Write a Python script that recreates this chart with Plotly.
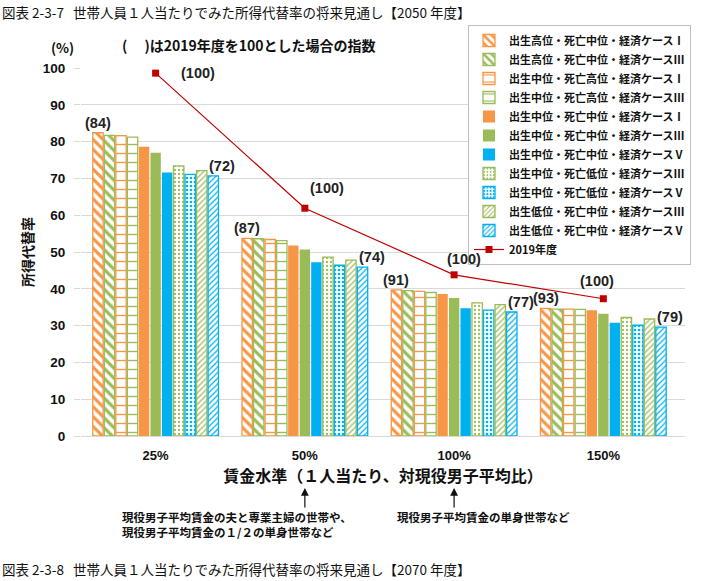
import plotly.graph_objects as go

categories = ["25%", "50%", "100%", "150%"]

series_names = [
    "出生高位・死亡中位・経済ケースⅠ",
    "出生高位・死亡中位・経済ケースⅢ",
    "出生中位・死亡高位・経済ケースⅠ",
    "出生中位・死亡高位・経済ケースⅢ",
    "出生中位・死亡中位・経済ケースⅠ",
    "出生中位・死亡中位・経済ケースⅢ",
    "出生中位・死亡中位・経済ケースⅤ",
    "出生中位・死亡低位・経済ケースⅢ",
    "出生中位・死亡低位・経済ケースⅤ",
    "出生低位・死亡中位・経済ケースⅢ",
    "出生低位・死亡中位・経済ケースⅤ",
]

s1 = [82.4, 53.7, 39.7, 34.7]
s2 = [81.7, 53.6, 39.5, 34.5]
s3 = [81.6, 53.4, 39.3, 34.5]
s4 = [81.2, 53.1, 39.0, 34.4]
s5 = [78.6, 51.8, 38.6, 34.2]
s6 = [77.0, 50.7, 37.5, 33.2]
s7 = [71.6, 47.2, 34.7, 30.8]
s8 = [73.4, 48.6, 36.2, 32.2]
s9 = [71.1, 46.4, 34.2, 30.1]
s10 = [72.1, 47.8, 35.7, 31.8]
s11 = [70.7, 45.9, 33.7, 29.6]
series_values = [s1, s2, s3, s4, s5, s6, s7, s8, s9, s10, s11]

line_name = "2019年度"
line_values = [98.6, 61.9, 43.8, 37.3]

first_labels = ["(84)", "(87)", "(91)", "(93)"]
last_labels = ["(72)", "(74)", "(77)", "(79)"]
line_labels = ["(100)", "(100)", "(100)", "(100)"]

ORANGE = "#F79646"
GREEN = "#9BBB59"
BLUE = "#00B0F0"
RED = "#C00000"

styles = [
    dict(c=ORANGE, shape="\\", size=7, sol=0.45),
    dict(c=GREEN, shape="\\", size=7, sol=0.45),
    dict(c=ORANGE, shape="-", size=9, sol=0.15),
    dict(c=GREEN, shape="-", size=9, sol=0.15),
    dict(c=ORANGE, shape=None),
    dict(c=GREEN, shape=None),
    dict(c=BLUE, shape=None),
    dict(c=GREEN, shape=".", size=4, sol=0.25),
    dict(c=BLUE, shape=".", size=4, sol=0.35),
    dict(c=GREEN, shape="/", size=4, sol=0.3),
    dict(c=BLUE, shape="/", size=4, sol=0.3),
]

CJK = "Noto Sans CJK JP"
fig = go.Figure()

for name, vals, st in zip(series_names, series_values, styles):
    if st["shape"] is None:
        marker = dict(color=st["c"], line=dict(color=st["c"], width=0))
    else:
        marker = dict(
            color=st["c"],
            line=dict(color=st["c"], width=1.3),
            pattern=dict(shape=st["shape"], fgcolor=st["c"], bgcolor="white",
                         size=st["size"], solidity=st["sol"], fillmode="replace"),
        )
    fig.add_trace(go.Bar(x=categories, y=vals, name=name, marker=marker))

fig.add_trace(go.Scatter(
    x=categories, y=line_values, name=line_name, mode="lines+markers",
    line=dict(color=RED, width=1.2),
    marker=dict(symbol="square", size=7, color=RED),
))

bargap = 0.15
n = len(series_names)
slot = (1 - bargap) / n
ann = []
lab_font = dict(family="Liberation Sans, Arial", size=14.5, color="#222", weight="bold")
for i, cat in enumerate(categories):
    x_first = i - (1 - bargap) / 2 + slot * 0.5
    x_last = i - (1 - bargap) / 2 + slot * (n - 0.5)
    ann.append(dict(x=x_first, y=series_values[0][i], xref="x", yref="y", text=first_labels[i],
                    showarrow=False, yanchor="bottom", yshift=0, font=lab_font))
    ann.append(dict(x=x_last, y=series_values[-1][i], xref="x", yref="y", text=last_labels[i],
                    showarrow=False, yanchor="bottom", yshift=0, xshift=9, font=lab_font))

line_offsets = [(42, 0), (22, 20), (10, 16), (-6, 18)]
for i, cat in enumerate(categories):
    dx, dy = line_offsets[i]
    ann.append(dict(x=i, y=line_values[i], xref="x", yref="y", text=line_labels[i],
                    showarrow=False, xshift=dx, yshift=dy, yanchor="middle", font=lab_font))

# Texts outside plot (paper coords relative to plot area 81..685 x 68..436)
def px(xp):
    return (xp - 81) / 604.0

def py(yp):
    return (436 - yp) / 368.0

title_font = dict(family=CJK, size=13.5, color="#111")
ann.append(dict(xref="paper", yref="paper", x=px(0), y=py(12), xanchor="left", yanchor="middle",
                text="図表 2-3-7&nbsp;&nbsp;&nbsp;世帯人員１人当たりでみた所得代替率の将来見通し【2050 年度】",
                showarrow=False, font=title_font))
ann.append(dict(xref="paper", yref="paper", x=px(0), y=py(569), xanchor="left", yanchor="middle",
                text="図表 2-3-8&nbsp;&nbsp;&nbsp;世帯人員１人当たりでみた所得代替率の将来見通し【2070 年度】",
                showarrow=False, font=title_font))
ann.append(dict(xref="paper", yref="paper", x=px(62), y=py(47), xanchor="center", yanchor="middle",
                text="(%)", showarrow=False,
                font=dict(family=CJK, size=13.5, color="#111", weight="bold")))
ann.append(dict(xref="paper", yref="paper", x=px(120), y=py(45), xanchor="left", yanchor="middle",
                text="(　 )は2019年度を100とした場合の指数", showarrow=False,
                font=dict(family=CJK, size=14, color="#111", weight="bold")))
note_font = dict(family=CJK, size=11.5, color="#111", weight="bold")
ann.append(dict(xref="paper", yref="paper", x=px(120), y=py(524), xanchor="left", yanchor="middle",
                text="現役男子平均賃金の夫と専業主婦の世帯や、<br>現役男子平均賃金の１/２の単身世帯など",
                align="left", showarrow=False, font=note_font))
ann.append(dict(xref="paper", yref="paper", x=px(395), y=py(517), xanchor="left", yanchor="middle",
                text="現役男子平均賃金の単身世帯など", showarrow=False, font=note_font))
for cat_idx in (1, 2):
    ann.append(dict(xref="x", yref="paper", x=cat_idx, y=py(488), ax=0, ay=21,
                    axref="pixel", ayref="pixel", text="", showarrow=True,
                    arrowhead=2, arrowsize=1.3, arrowwidth=1.2, arrowcolor="#111"))

fig.update_layout(
    width=703, height=581,
    margin=dict(l=81, r=18, t=68, b=145),
    paper_bgcolor="white", plot_bgcolor="white",
    barmode="group", bargap=bargap, bargroupgap=0.1,
    font=dict(family=CJK, color="#111"),
    showlegend=True,
    legend=dict(x=px(468), y=py(25), xanchor="left", yanchor="top",
                bgcolor="white", bordercolor="#BFBFBF", borderwidth=1,
                font=dict(family=CJK, size=11, color="#111", weight="bold"),
                traceorder="normal", itemwidth=30),
    annotations=ann,
)
fig.update_yaxes(range=[0, 100], dtick=10, showgrid=True, gridcolor="#D9D9D9", gridwidth=1,
                 zeroline=True, zerolinecolor="#D9D9D9", zerolinewidth=1,
                 ticks="outside", ticklen=6, tickcolor="#D9D9D9", ticklabelstandoff=6,
                 tickfont=dict(family="Liberation Sans, Arial", size=13.5, color="#111", weight="bold"),
                 title=dict(text="所得代替率", standoff=5,
                            font=dict(family=CJK, size=14, color="#111", weight="bold")))
fig.update_xaxes(showgrid=False, showline=False, ticklabelstandoff=10,
                 tickfont=dict(family="Liberation Sans, Arial", size=13, color="#111", weight="bold"),
                 title=dict(text="賃金水準（１人当たり、対現役男子平均比）", standoff=6,
                            font=dict(family=CJK, size=16, color="#111", weight="bold")))

fig.write_html("out.html")
